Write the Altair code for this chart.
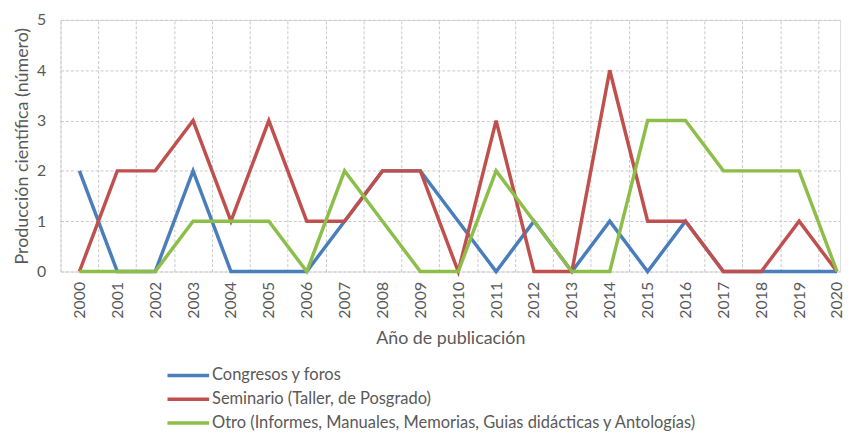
import altair as alt
import pandas as pd

years = list(range(2000, 2021))
congresos = [2, 0, 0, 2, 0, 0, 0, 1, 2, 2, 1, 0, 1, 0, 1, 0, 1, 0, 0, 0, 0]
seminario = [0, 2, 2, 3, 1, 3, 1, 1, 2, 2, 0, 3, 0, 0, 4, 1, 1, 0, 0, 1, 0]
otro = [0, 0, 0, 1, 1, 1, 0, 2, 1, 0, 0, 2, 1, 0, 0, 3, 3, 2, 2, 2, 0]
series = [
    "Congresos y foros",
    "Seminario (Taller, de Posgrado)",
    "Otro (Informes, Manuales, Memorias, Guias didácticas y Antologías)",
]
colors = ["#4A7EBB", "#C0504D", "#8DBE4A"]
y_ticks = [0, 1, 2, 3, 4, 5]

rows = []
for name, vals in zip(series, [congresos, seminario, otro]):
    for yr, v in zip(years, vals):
        rows.append({"year": yr, "value": v, "serie": name})
df = pd.DataFrame(rows)

FONT = "Lato"
GRAY = "#595959"
GRID = "#C8C8C8"

xscale = alt.Scale(domain=[1999.5, 2020.08], nice=False, zero=False)
yscale = alt.Scale(domain=[0, 5], nice=False, zero=True)

grid_layer = alt.Chart(df).mark_line(opacity=0).encode(
    x=alt.X(
        "year:Q",
        scale=xscale,
        axis=alt.Axis(
            orient="top",
            values=[y - 0.5 for y in years] + [years[-1] + 0.5],
            grid=True,
            gridColor=GRID,
            gridDash=[3, 2],
            gridWidth=1,
            labels=False,
            ticks=False,
            domain=False,
            title=None,
        ),
    ),
    y=alt.Y("value:Q", scale=yscale, axis=None),
)

lines = alt.Chart(df).mark_line(strokeWidth=3.5, strokeJoin="miter").encode(
    x=alt.X(
        "year:Q",
        scale=xscale,
        axis=alt.Axis(
            values=years,
            format="d",
            labelAngle=-90,
            labelAlign="right",
            labelBaseline="middle",
            labelFont=FONT,
            labelFontSize=16,
            labelColor=GRAY,
            labelPadding=10,
            grid=False,
            ticks=False,
            domain=False,
            title="Año de publicación",
            titleFont=FONT,
            titleFontSize=18,
            titleFontWeight="normal",
            titleColor=GRAY,
            titlePadding=12,
        ),
    ),
    y=alt.Y(
        "value:Q",
        scale=yscale,
        axis=alt.Axis(
            values=y_ticks,
            grid=True,
            gridColor=GRID,
            gridDash=[3, 2],
            gridWidth=1,
            ticks=False,
            domain=False,
            labelFont=FONT,
            labelFontSize=16,
            labelColor=GRAY,
            labelPadding=15,
            title="Producción científica (número)",
            titleFont=FONT,
            titleFontSize=18,
            titleFontWeight="normal",
            titleColor=GRAY,
            titlePadding=5,
        ),
    ),
    color=alt.Color(
        "serie:N",
        scale=alt.Scale(domain=series, range=colors),
        sort=series,
        legend=alt.Legend(
            orient="none",
            legendX=106,
            legendY=350,
            title=None,
            direction="vertical",
            symbolType="M-1,0H5",
            symbolSize=196,
            symbolStrokeWidth=3.5,
            symbolFillColor="transparent",
            labelFont=FONT,
            labelFontSize=16.6,
            labelColor=GRAY,
            labelOffset=29,
            rowPadding=6,
            labelLimit=700,
        ),
    ),
)

chart = (
    alt.layer(grid_layer, lines)
    .resolve_axis(x="independent", y="independent")
    .properties(
        width=787,
        height=254,
        autosize=alt.AutoSizeParams(type="none"),
        padding={"left": 53, "top": 10, "right": 6, "bottom": 161},
    )
    .configure_view(stroke=None)
    .configure(background="white")
)

chart.save("out.html", embed_options={"renderer": "svg", "actions": False})
